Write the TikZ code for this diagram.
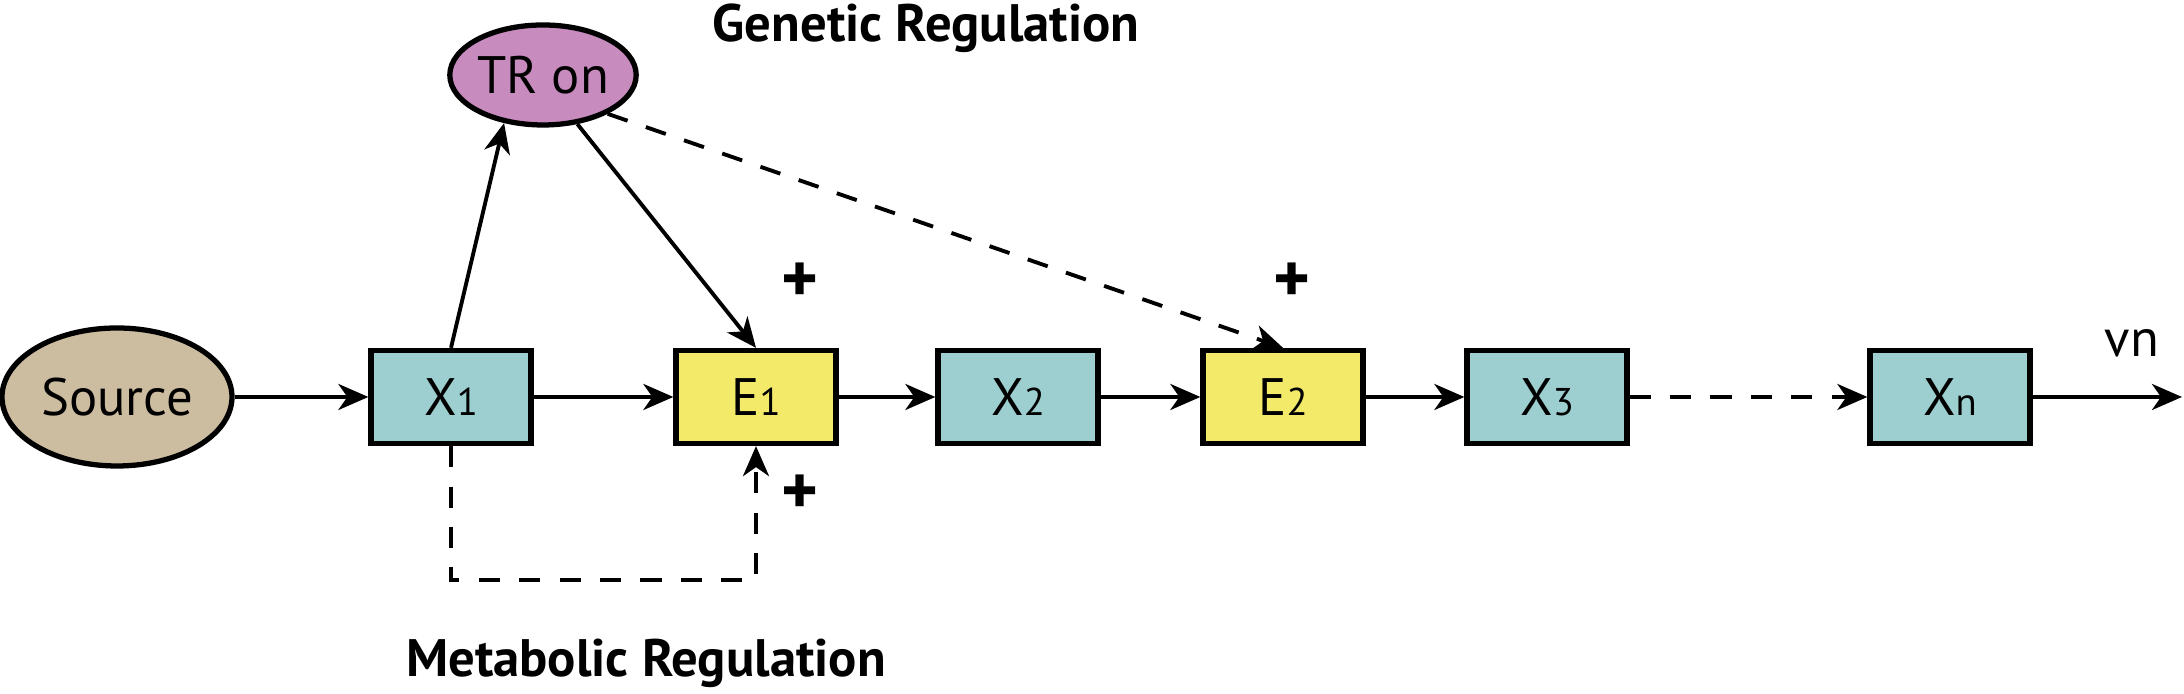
\documentclass[tikz,border=0pt]{standalone}
\usepackage{fontspec}
\setmainfont{PT Sans}
\usetikzlibrary{arrows.meta,shapes.geometric}
\definecolor{sourcefill}{RGB}{204,188,160}
\definecolor{trfill}{RGB}{199,139,190}
\definecolor{metfill}{RGB}{157,206,208}
\definecolor{enzfill}{RGB}{244,234,106}
\newcommand{\ix}[1]{{\fontsize{11}{13}\selectfont #1}}

\begin{document}
\begin{tikzpicture}[
  >={Stealth[length=3mm,width=2.6mm,inset=0.9mm]},
  line width=1.1pt,
  metab/.style={draw,line width=1.5pt,fill=metfill,minimum width=1.6cm,minimum height=0.93cm,inner sep=0pt,font=\fontsize{15}{17}\selectfont},
  enzyme/.style={metab,fill=enzfill},
  pool/.style={ellipse,draw,line width=1.5pt,inner sep=0pt,font=\fontsize{15}{17}\selectfont},
  sign/.style={font=\bfseries\fontsize{20}{22}\selectfont},
  title/.style={font=\bfseries\fontsize{15}{17}\selectfont},
  dashes/.style={dash pattern=on 6pt off 5.5pt}
]
\useasboundingbox (0,0) rectangle (21.84,6.94);

\node[pool,fill=sourcefill,minimum width=2.3cm,minimum height=1.38cm] (source) at (1.17,2.97) {Source};
\node[metab] (x1) at (4.51,2.97) {X\ix{1}};
\node[enzyme] (e1) at (7.56,2.97) {E\ix{1}};
\node[metab] (x2) at (10.18,2.97) {X\ix{2}};
\node[enzyme] (e2) at (12.83,2.97) {E\ix{2}};
\node[metab] (x3) at (15.47,2.97) {X\ix{3}};
\node[metab] (xn) at (19.50,2.97) {X\ix{n}};
\node[pool,fill=trfill,minimum width=1.85cm,minimum height=1.0cm] (tr) at (5.43,6.19) {TR on};
\coordinate (out) at (21.82,2.97);
\coordinate (turn) at (4.51,1.14);

\node[title] (genreg) at (9.26,6.66) {Genetic Regulation};
\node[title] (metreg) at (6.46,0.31) {Metabolic Regulation};
\node[sign] (plusa) at (8.00,4.11) {+};
\node[sign] (plusb) at (12.92,4.11) {+};
\node[sign] (plusc) at (8.00,1.99) {+};
\node[font=\fontsize{15}{17}\selectfont] (vn) at (21.32,3.51) {vn};

\draw[->] (source) -- (x1);
\draw[->] (x1) -- (e1);
\draw[->] (e1) -- (x2);
\draw[->] (x2) -- (e2);
\draw[->] (e2) -- (x3);
\draw[->,dashes] (x3) -- (xn);
\draw[->] (xn) -- (out);

\draw[->] (x1.north) -- (tr.231);
\draw[->] (tr.305) -- (e1.north);
\draw[->,dashes] (tr.329) -- (e2.north);
\draw[->,dashes] (x1.south) -- (turn) -| (e1.south);
\end{tikzpicture}
\end{document}
